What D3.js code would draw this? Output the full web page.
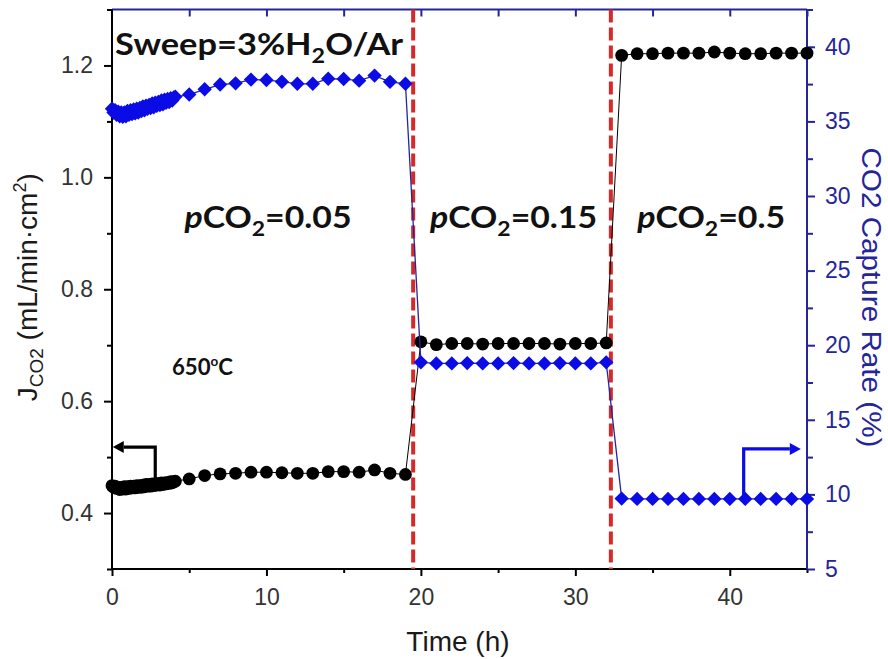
<!DOCTYPE html>
<html>
<head>
<meta charset="utf-8">
<script src="https://cdn.jsdelivr.net/npm/d3@7"></script>
<style>
  body { margin: 0; background: #fff; }
  svg { display: block; }
</style>
</head>
<body>
<svg id="chart"></svg>
<script>
// ─── DATA ─────────────────────────────────────────────────────────────────────

// dense logging during the first ~4 h (pCO2 = 0.05)
const denseHours = [
  0.0, 0.1, 0.2, 0.3, 0.4, 0.5, 0.6, 0.7, 0.8, 0.9,
  1.0, 1.1, 1.2, 1.3, 1.4, 1.5, 1.6, 1.7, 1.8, 1.9,
  2.0, 2.1, 2.2, 2.3, 2.4, 2.5, 2.6, 2.7, 2.8, 2.9,
  3.0, 3.1, 3.2, 3.3, 3.4, 3.5, 3.6, 3.7, 3.8, 3.9,
  4.0, 4.1
];
const denseFlux = [
  0.449, 0.446, 0.448, 0.444, 0.446, 0.442, 0.446, 0.443, 0.447, 0.443,
  0.447, 0.444, 0.448, 0.445, 0.448, 0.445, 0.449, 0.446, 0.449, 0.446,
  0.450, 0.447, 0.451, 0.448, 0.451, 0.448, 0.452, 0.449, 0.452, 0.450,
  0.453, 0.450, 0.454, 0.451, 0.454, 0.452, 0.455, 0.453, 0.456, 0.454,
  0.456, 0.457
];
const denseRate = [
  35.85, 35.6, 35.75, 35.45, 35.65, 35.35, 35.6, 35.3, 35.6, 35.35,
  35.7, 35.45, 35.75, 35.5, 35.8, 35.55, 35.85, 35.6, 35.9, 35.7,
  36.0, 35.75, 36.05, 35.85, 36.1, 35.9, 36.2, 35.95, 36.25, 36.05,
  36.3, 36.1, 36.4, 36.15, 36.45, 36.25, 36.5, 36.3, 36.55, 36.4,
  36.6, 36.65
];

// hourly points, 5 h .. 45 h
const hourlyHours = [
  5, 6, 7, 8, 9, 10, 11, 12, 13, 14, 15, 16, 17, 18, 19,
  20, 21, 22, 23, 24, 25, 26, 27, 28, 29, 30, 31, 32,
  33, 34, 35, 36, 37, 38, 39, 40, 41, 42, 43, 44, 45
];
const hourlyFlux = [
  0.461, 0.467, 0.470, 0.471, 0.473, 0.473, 0.472, 0.471, 0.471, 0.474, 0.474, 0.473, 0.477, 0.471, 0.469,
  0.706, 0.701, 0.703, 0.703, 0.702, 0.703, 0.703, 0.703, 0.703, 0.702, 0.703, 0.703, 0.704,
  1.218, 1.221, 1.221, 1.222, 1.222, 1.222, 1.224, 1.222, 1.221, 1.221, 1.222, 1.222, 1.222
];
const hourlyRate = [
  36.8, 37.15, 37.47, 37.55, 37.8, 37.77, 37.66, 37.52, 37.52, 37.86, 37.84, 37.73, 38.07, 37.65, 37.52,
  18.85, 18.78, 18.78, 18.8, 18.78, 18.78, 18.8, 18.78, 18.78, 18.8, 18.78, 18.78, 18.85,
  9.72, 9.7, 9.7, 9.7, 9.7, 9.7, 9.7, 9.7, 9.7, 9.7, 9.7, 9.7, 9.7
];

const switchHours = [19.5, 32.3];            // gas switch (red dashed)
const pco2Values = ["0.05", "0.15", "0.5"];
const pco2CenterHours = [10.1, 26.0, 38.8];

const xMajor = [0, 10, 20, 30, 40];
const xMinor = [5, 15, 25, 35, 45];
const xTop = [5, 10, 15, 20, 25, 30, 35, 40, 45];
const fluxMajor = [0.4, 0.6, 0.8, 1.0, 1.2];
const fluxMinor = [0.3, 0.5, 0.7, 0.9, 1.1, 1.3];
const rateMajor = [5, 10, 15, 20, 25, 30, 35, 40];
const rateMinor = [7.5, 12.5, 17.5, 22.5, 27.5, 32.5, 37.5, 42.5];

// ─── SETUP ────────────────────────────────────────────────────────────────────

const width = 888,
  height = 659;
const navy = "#25259a",
  blue = "#0b0be6",
  red = "#d62a2a";
const tickFont = "'Liberation Sans', Arial, sans-serif";
const boldFont = "Lato, 'Open Sans', sans-serif";

const svg = d3.select("#chart").attr("width", width).attr("height", height);

const x = d3.scaleLinear().domain([0, 45]).range([112, 807]);
const yL = d3.scaleLinear().domain([0.3, 1.3]).range([569, 9.5]);
const yR = d3.scaleLinear().domain([5, 42.5]).range([569, 9.5]);

const flux = denseHours.map((h, i) => ({ h, v: denseFlux[i] }))
  .concat(hourlyHours.map((h, i) => ({ h, v: hourlyFlux[i] })));
const rate = denseHours.map((h, i) => ({ h, v: denseRate[i] }))
  .concat(hourlyHours.map((h, i) => ({ h, v: hourlyRate[i] })));

// ─── AXES ─────────────────────────────────────────────────────────────────────

function styleAxis(g, color, size) {
  g.select(".domain").remove();
  g.selectAll(".tick line").attr("stroke", color).attr("stroke-width", 2);
  g.selectAll(".tick text")
    .attr("fill", color === "#000" ? "#333" : color)
    .attr("font-family", tickFont)
    .attr("font-size", size);
}

svg.append("g")
  .attr("transform", `translate(0,${yL.range()[0]})`)
  .call(d3.axisBottom(x).tickValues(xMajor).tickSize(7).tickPadding(13).tickFormat(d3.format("d")))
  .call((g) => styleAxis(g, "#000", 23));
svg.append("g")
  .attr("transform", `translate(0,${yL.range()[0]})`)
  .call(d3.axisBottom(x).tickValues(xMinor).tickSize(4).tickFormat(""))
  .call((g) => styleAxis(g, "#000", 23));

svg.append("g")
  .attr("transform", `translate(0,${yL.range()[1]})`)
  .call(d3.axisTop(x).tickValues(xTop).tickSize(-7).tickFormat(""))
  .call((g) => styleAxis(g, navy, 23));

svg.append("g")
  .attr("transform", `translate(${x.range()[0]},0)`)
  .call(d3.axisLeft(yL).tickValues(fluxMajor).tickSize(8).tickPadding(11).tickFormat(d3.format(".1f")))
  .call((g) => styleAxis(g, "#000", 23));
svg.append("g")
  .attr("transform", `translate(${x.range()[0]},0)`)
  .call(d3.axisLeft(yL).tickValues(fluxMinor).tickSize(5).tickFormat(""))
  .call((g) => styleAxis(g, "#000", 23));

svg.append("g")
  .attr("transform", `translate(${x.range()[1]},0)`)
  .call(d3.axisRight(yR).tickValues(rateMajor).tickSize(8).tickPadding(10))
  .call((g) => styleAxis(g, navy, 23));
svg.append("g")
  .attr("transform", `translate(${x.range()[1]},0)`)
  .call(d3.axisRight(yR).tickValues(rateMinor).tickSize(6).tickFormat(""))
  .call((g) => styleAxis(g, navy, 23));

// frame
const [x0, x1] = x.range(),
  [yb, yt] = yL.range();
const frame = svg.append("g").attr("stroke-width", 2).attr("fill", "none");
frame.append("line").attr("x1", x0).attr("x2", x1).attr("y1", yb).attr("y2", yb).attr("stroke", "#000");
frame.append("line").attr("x1", x0).attr("x2", x1).attr("y1", yt).attr("y2", yt).attr("stroke", navy);
frame.append("line").attr("x1", x0).attr("x2", x0).attr("y1", yt).attr("y2", yb).attr("stroke", "#000");
frame.append("line").attr("x1", x1).attr("x2", x1).attr("y1", yt).attr("y2", yb).attr("stroke", navy);

// axis titles
const leftTitle = svg.append("text")
  .attr("transform", `translate(37,${yL(0.8) - 2}) rotate(-90)`)
  .attr("text-anchor", "middle")
  .attr("font-family", tickFont)
  .attr("font-size", 28)
  .attr("fill", "#1a1a1a");
leftTitle.append("tspan").text("J");
leftTitle.append("tspan").attr("font-size", 19).attr("dy", 6).text("CO2");
leftTitle.append("tspan").attr("dy", -6).text(" (mL/min\u00b7cm");
leftTitle.append("tspan").attr("font-size", 18).attr("dy", -11).text("2");
leftTitle.append("tspan").attr("dy", 11).text(")");

svg.append("text")
  .attr("transform", `translate(862,${yR(23.2)}) rotate(90)`)
  .attr("text-anchor", "middle")
  .attr("font-family", tickFont)
  .attr("font-size", 27)
  .attr("fill", navy)
  .attr("textLength", 300)
  .attr("lengthAdjust", "spacingAndGlyphs")
  .text("CO2 Capture Rate (%)");

svg.append("text")
  .attr("x", x(22.4))
  .attr("y", 651)
  .attr("text-anchor", "middle")
  .attr("font-family", tickFont)
  .attr("font-size", 28)
  .attr("fill", "#1a1a1a")
  .text("Time (h)");

// ─── SWITCH LINES ─────────────────────────────────────────────────────────────

svg.append("g")
  .selectAll("line")
  .data(switchHours)
  .join("line")
  .attr("x1", (d) => x(d))
  .attr("x2", (d) => x(d))
  .attr("y1", yt)
  .attr("y2", yb)
  .attr("stroke", red)
  .attr("stroke-width", 4)
  .attr("stroke-dasharray", "13,5");

// ─── SERIES ───────────────────────────────────────────────────────────────────

const fluxLine = d3.line().x((d) => x(d.h)).y((d) => yL(d.v));
const rateLine = d3.line().x((d) => x(d.h)).y((d) => yR(d.v));

svg.append("path")
  .attr("d", fluxLine(flux))
  .attr("fill", "none")
  .attr("stroke", "#000")
  .attr("stroke-width", 1);

svg.append("g")
  .selectAll("circle")
  .data(flux)
  .join("circle")
  .attr("cx", (d) => x(d.h))
  .attr("cy", (d) => yL(d.v))
  .attr("r", 6.4)
  .attr("fill", "#000");

svg.append("path")
  .attr("d", rateLine(rate))
  .attr("fill", "none")
  .attr("stroke", navy)
  .attr("stroke-width", 1.3);

const diamond = (s) => `M0,${-s}L${s},0L0,${s}L${-s},0Z`;
svg.append("g")
  .selectAll("path")
  .data(rate)
  .join("path")
  .attr("transform", (d) => `translate(${x(d.h)},${yR(d.v)})`)
  .attr("d", diamond(7.2))
  .attr("fill", blue);

// ─── ARROWS ───────────────────────────────────────────────────────────────────

function arrow(points, color, dir) {
  const p = points.map(([px, py]) => [px, py]);
  const tip = p[p.length - 1];
  const base = [tip[0] - dir * 11, tip[1]];
  p[p.length - 1] = base;
  svg.append("path")
    .attr("d", d3.line()(p))
    .attr("fill", "none")
    .attr("stroke", color)
    .attr("stroke-width", 3.2);
  svg.append("path")
    .attr("d", `M${tip[0]},${tip[1]}L${base[0]},${tip[1] - 6}L${base[0]},${tip[1] + 6}Z`)
    .attr("fill", color);
}

arrow([[x(2.8), yL(0.458)], [x(2.8), yL(0.518)], [x(0.05), yL(0.518)]], "#000", -1);
arrow([[x(40.9), yR(9.75)], [x(40.9), yR(13.05)], [x(44.6), yR(13.05)]], blue, 1);

// ─── ANNOTATIONS ──────────────────────────────────────────────────────────────

const sweep = svg.append("text")
  .attr("x", x(0.2))
  .attr("y", yL(1.218))
  .attr("font-family", boldFont)
  .attr("font-weight", "bold")
  .attr("font-size", 31)
  .attr("fill", "#111")
  .attr("textLength", 288)
  .attr("lengthAdjust", "spacingAndGlyphs");
sweep.append("tspan").text("Sweep=3%H");
sweep.append("tspan").attr("font-size", 21).attr("dy", 8).text("2");
sweep.append("tspan").attr("dy", -8).text("O/Ar");

svg.append("g")
  .selectAll("text")
  .data(pco2Values)
  .join("text")
  .attr("x", (d, i) => x(pco2CenterHours[i]))
  .attr("y", yL(0.91))
  .attr("text-anchor", "middle")
  .attr("font-family", boldFont)
  .attr("font-weight", "bold")
  .attr("font-size", 31)
  .attr("fill", "#111")
  .attr("textLength", (d) => (d.length > 3 ? 167 : 148))
  .attr("lengthAdjust", "spacingAndGlyphs")
  .each(function (d) {
    const t = d3.select(this);
    t.append("tspan").attr("font-style", "italic").text("p");
    t.append("tspan").text("CO");
    t.append("tspan").attr("font-size", 21).attr("dy", 8).text("2");
    t.append("tspan").attr("dy", -8).text("=" + d);
  });

const temp = svg.append("text")
  .attr("x", x(3.88))
  .attr("y", yL(0.647))
  .attr("font-family", boldFont)
  .attr("font-weight", "bold")
  .attr("font-size", 23)
  .attr("fill", "#111")
  .attr("textLength", 61)
  .attr("lengthAdjust", "spacingAndGlyphs");
temp.append("tspan").text("650");
temp.append("tspan").attr("font-size", 14).attr("dy", -9).text("o");
temp.append("tspan").attr("dy", 9).text("C");
</script>
</body>
</html>
